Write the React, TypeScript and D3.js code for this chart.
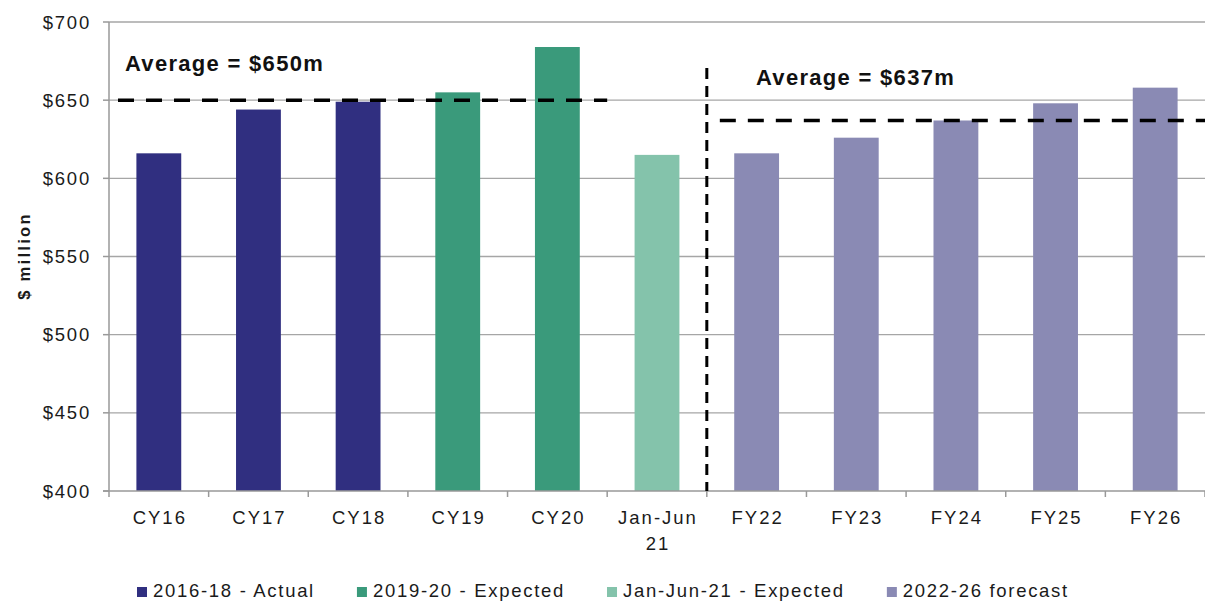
import React, { useEffect, useRef } from "react";
import * as d3 from "d3";

// Annual values, $ million
const categories = ["CY16", "CY17", "CY18", "CY19", "CY20", "Jan-Jun\n21", "FY22", "FY23", "FY24", "FY25", "FY26"];
const values = [616, 644, 649, 655, 684, 615, 616, 626, 637, 648, 658];
const seriesOf = [0, 0, 0, 1, 1, 2, 3, 3, 3, 3, 3];
const seriesNames = ["2016-18 - Actual", "2019-20 - Expected", "Jan-Jun-21 - Expected", "2022-26 forecast"];
const seriesColors = ["#302F80", "#3A9A7B", "#84C3AB", "#8A8AB4"];
const yTicks = [400, 450, 500, 550, 600, 650, 700];

// Period averages shown as dashed reference lines
const avgHistoric = 650;
const avgForecast = 637;
const avgHistoricLabel = "Average = $650m";
const avgForecastLabel = "Average = $637m";

const W = 1205;
const H = 601;
const FONT = "'Liberation Sans', Arial, sans-serif";

export default function App() {
  const ref = useRef<SVGSVGElement | null>(null);

  useEffect(() => {
    const svg = d3.select(ref.current);
    svg.selectAll("*").remove();

    const left = 109;
    const right = 1205;
    const top = 22;
    const bottom = 491;

    const x = d3
      .scaleBand<string>()
      .domain(categories)
      .range([left, right])
      .paddingInner(0.55)
      .paddingOuter(0.275);
    const y = d3.scaleLinear().domain([400, 700]).range([bottom, top]);
    const step = x.step();

    // gridlines
    svg
      .append("g")
      .selectAll("line")
      .data(yTicks.slice(1))
      .join("line")
      .attr("x1", left)
      .attr("x2", right)
      .attr("y1", (d) => y(d))
      .attr("y2", (d) => y(d))
      .attr("stroke", "#a6a6a6")
      .attr("stroke-width", 1.4);

    // bars
    svg
      .append("g")
      .selectAll("rect")
      .data(values)
      .join("rect")
      .attr("x", (_, i) => x(categories[i])!)
      .attr("width", x.bandwidth())
      .attr("y", (d) => y(d))
      .attr("height", (d) => y(400) - y(d))
      .attr("fill", (_, i) => seriesColors[seriesOf[i]]);

    // axes lines
    svg
      .append("line")
      .attr("x1", left)
      .attr("x2", left)
      .attr("y1", top)
      .attr("y2", bottom)
      .attr("stroke", "#999")
      .attr("stroke-width", 1.5);
    svg
      .append("line")
      .attr("x1", left - 6)
      .attr("x2", right)
      .attr("y1", bottom)
      .attr("y2", bottom)
      .attr("stroke", "#999")
      .attr("stroke-width", 1.5);

    // y ticks and labels
    const yg = svg.append("g");
    yg.selectAll("line")
      .data(yTicks)
      .join("line")
      .attr("x1", left - 6)
      .attr("x2", left)
      .attr("y1", (d) => y(d))
      .attr("y2", (d) => y(d))
      .attr("stroke", "#999")
      .attr("stroke-width", 1.5);
    yg.selectAll("text")
      .data(yTicks)
      .join("text")
      .attr("x", 91)
      .attr("y", (d) => y(d) + 6.5)
      .attr("text-anchor", "end")
      .attr("font-family", FONT)
      .attr("font-size", 18.5)
      .attr("letter-spacing", 1.8)
      .attr("fill", "#1a1a1a")
      .text((d) => `$${d}`);

    // x ticks at band boundaries
    const xBounds = d3.range(categories.length + 1).map((i) => left + i * step);
    svg
      .append("g")
      .selectAll("line")
      .data(xBounds)
      .join("line")
      .attr("x1", (d) => d)
      .attr("x2", (d) => d)
      .attr("y1", bottom)
      .attr("y2", bottom + 6)
      .attr("stroke", "#999")
      .attr("stroke-width", 1.5);

    // category labels
    const xl = svg.append("g");
    categories.forEach((c) => {
      const cx = x(c)! + x.bandwidth() / 2 + 1;
      const t = xl
        .append("text")
        .attr("x", cx)
        .attr("y", 524)
        .attr("text-anchor", "middle")
        .attr("font-family", FONT)
        .attr("font-size", 18.5)
        .attr("letter-spacing", 2)
        .attr("fill", "#1a1a1a");
      c.split("\n").forEach((line, li) => {
        t.append("tspan").attr("x", cx).attr("dy", li === 0 ? 0 : 26).text(line);
      });
    });

    // y title
    svg
      .append("text")
      .attr("transform", `translate(30,256) rotate(-90)`)
      .attr("text-anchor", "middle")
      .attr("font-family", FONT)
      .attr("font-size", 16.5)
      .attr("font-weight", "bold")
      .attr("letter-spacing", 2.3)
      .attr("fill", "#1a1a1a")
      .text("$ million");

    // divider between history and forecast
    const divX = left + 6 * step;
    svg
      .append("line")
      .attr("x1", divX)
      .attr("x2", divX)
      .attr("y1", 68)
      .attr("y2", bottom)
      .attr("stroke", "#000")
      .attr("stroke-width", 3)
      .attr("stroke-dasharray", "11,7");

    // average lines
    svg
      .append("line")
      .attr("x1", left + 9)
      .attr("x2", left + 5 * step)
      .attr("y1", y(avgHistoric))
      .attr("y2", y(avgHistoric))
      .attr("stroke", "#000")
      .attr("stroke-width", 3.5)
      .attr("stroke-dasharray", "16,12");
    svg
      .append("line")
      .attr("x1", divX + 13)
      .attr("x2", right)
      .attr("y1", y(avgForecast))
      .attr("y2", y(avgForecast))
      .attr("stroke", "#000")
      .attr("stroke-width", 3.5)
      .attr("stroke-dasharray", "16,12");

    // average labels
    svg
      .append("text")
      .attr("x", 125)
      .attr("y", 71)
      .attr("font-family", FONT)
      .attr("font-size", 22)
      .attr("font-weight", "bold")
      .attr("letter-spacing", 1.3)
      .attr("fill", "#111")
      .text(avgHistoricLabel);
    svg
      .append("text")
      .attr("x", 756)
      .attr("y", 85)
      .attr("font-family", FONT)
      .attr("font-size", 22)
      .attr("font-weight", "bold")
      .attr("letter-spacing", 1.3)
      .attr("fill", "#111")
      .text(avgForecastLabel);

    // legend
    const lg = svg.append("g");
    let lx = 137;
    seriesNames.forEach((name, i) => {
      lg.append("rect")
        .attr("x", lx)
        .attr("y", 587)
        .attr("width", 10)
        .attr("height", 10)
        .attr("fill", seriesColors[i]);
      const t = lg
        .append("text")
        .attr("x", lx + 16)
        .attr("y", 597)
        .attr("font-family", FONT)
        .attr("font-size", 18.5)
        .attr("letter-spacing", 1.7)
        .attr("fill", "#1a1a1a")
        .text(name);
      const w = (t.node() as SVGTextElement).getComputedTextLength();
      lx = lx + 16 + w + 42;
    });
  }, []);

  return (
    <svg
      ref={ref}
      width={W}
      height={H}
      style={{ position: "absolute", left: 0, top: 0, background: "#fff" }}
    />
  );
}
